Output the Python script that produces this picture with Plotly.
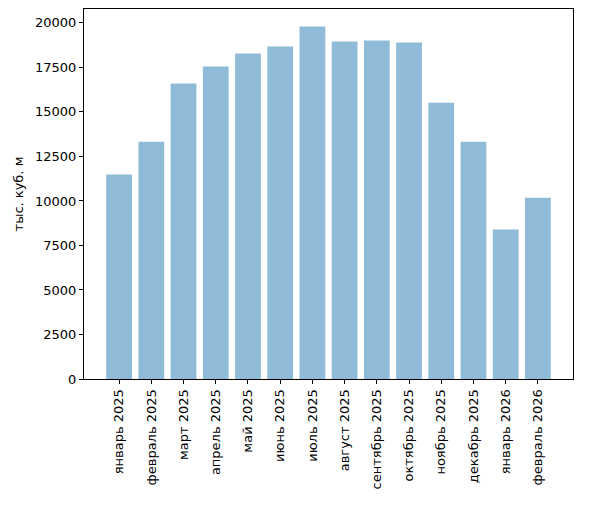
import plotly.graph_objects as go

months = ["январь 2025", "февраль 2025", "март 2025", "апрель 2025", "май 2025",
          "июнь 2025", "июль 2025", "август 2025", "сентябрь 2025", "октябрь 2025",
          "ноябрь 2025", "декабрь 2025", "январь 2026", "февраль 2026"]
values = [11480, 13330, 16590, 17545, 18275, 18670, 19790, 18950, 19005, 18895,
          15520, 13330, 8390, 10185]
y_ticks = [0, 2500, 5000, 7500, 10000, 12500, 15000, 17500, 20000]

fig = go.Figure()
fig.add_trace(go.Bar(
    x=list(range(len(months))), y=values, width=0.8,
    marker=dict(color="rgba(31,119,180,0.5)", line=dict(width=0)),
))

n = len(months)
span = (n - 1) + 0.8
pad = 0.05 * span
fig.update_layout(
    width=589, height=506,
    margin=dict(l=84, r=16, t=9, b=127),
    paper_bgcolor="white", plot_bgcolor="white",
    font=dict(family="DejaVu Sans", size=13, color="black"),
    showlegend=False,
    xaxis=dict(
        range=[-0.4 - pad, n - 1 + 0.4 + pad],
        tickmode="array", tickvals=list(range(n)), ticktext=months,
        tickangle=-90, ticks="outside", ticklen=4, tickcolor="black",
        showline=True, linecolor="black", linewidth=1, mirror=True,
        showgrid=False, zeroline=False,
    ),
    yaxis=dict(
        range=[0, max(values) * 1.05],
        tickmode="array", tickvals=y_ticks, ticktext=[str(t) for t in y_ticks],
        ticks="outside", ticklen=4, tickcolor="black",
        showline=True, linecolor="black", linewidth=1, mirror=True,
        showgrid=False, zeroline=False,
        title=dict(text="тыс. куб. м", standoff=8, font=dict(size=13)),
    ),
)
fig.write_html("out.html", config={"displayModeBar": False},
               post_script="document.body.style.margin='0';document.body.style.overflow='hidden';")
